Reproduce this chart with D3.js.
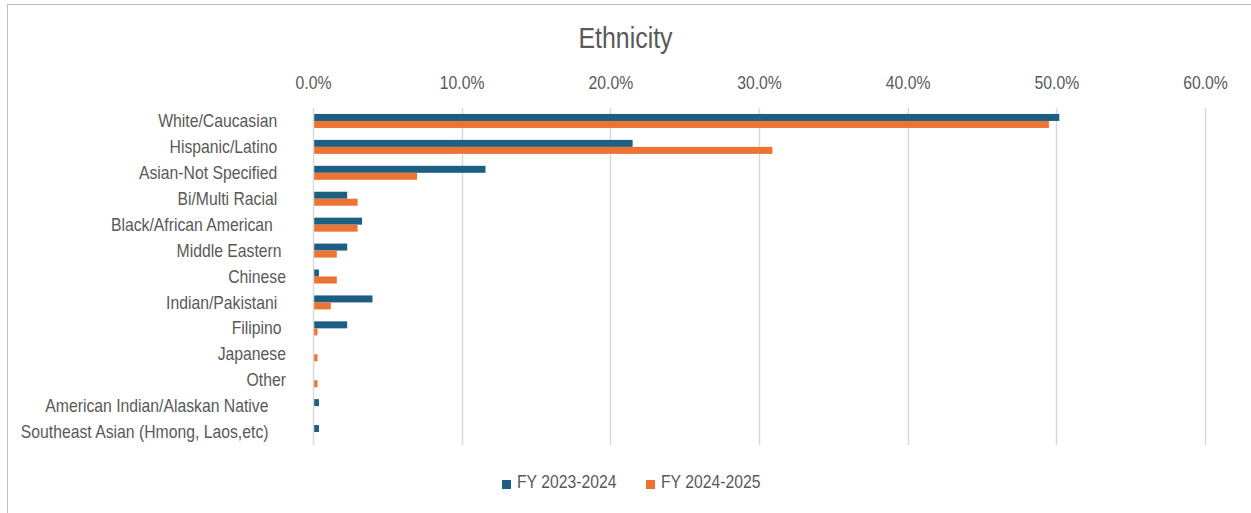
<!DOCTYPE html>
<html>
<head>
<meta charset="utf-8">
<script src="https://cdn.jsdelivr.net/npm/d3@7"></script>
<style>
  html, body { margin: 0; padding: 0; background: #fff; }
  svg text { font-family: "Liberation Sans Narrow", "Arial Narrow", "Liberation Sans", Arial, sans-serif; fill: #595959; }
</style>
</head>
<body>
<svg id="chart" width="1251" height="513"></svg>
<script>
const categories = [
  "White/Caucasian",
  "Hispanic/Latino",
  "Asian-Not Specified",
  "Bi/Multi Racial",
  "Black/African American",
  "Middle Eastern",
  "Chinese",
  "Indian/Pakistani",
  "Filipino",
  "Japanese",
  "Other",
  "American Indian/Alaskan Native",
  "Southeast Asian (Hmong, Laos,etc)"
];
// trailing spaces as in the original labels (affects right alignment)
const labelPad = [2, 2, 2, 2, 3, 1, 0, 2, 1, 0, 0, 4, 4];
const fy2324 = [50.2, 21.5, 11.6, 2.3, 3.3, 2.3, 0.4, 4.0, 2.3, 0, 0, 0.4, 0.4];
const fy2425 = [49.5, 30.9, 7.0, 3.0, 3.0, 1.6, 1.6, 1.2, 0.3, 0.3, 0.3, 0, 0];
const seriesNames = ["FY 2023-2024", "FY 2024-2025"];
const seriesColors = ["#1d5f82", "#ec7432"];
const xTicks = [0, 10, 20, 30, 40, 50, 60];
const title = "Ethnicity";

const svg = d3.select("#chart");
const FONT = '"Liberation Sans Narrow", "Arial Narrow", "Liberation Sans", Arial, sans-serif';
const NARROW = 0.83; // horizontal condensing to imitate a narrow face

// outer chart border
svg.append("rect").attr("x", 7.5).attr("y", 4.5).attr("width", 1250).attr("height", 520)
  .attr("fill", "#fff").attr("stroke", "#bfbfbf").attr("stroke-width", 1);

const plot = { left: 313, right: 1205, top: 108, bottom: 445 };

const x = d3.scaleLinear().domain([0, 60]).range([plot.left, plot.right]);
const y = d3.scaleBand().domain(categories).range([plot.top, plot.bottom]).paddingInner(0.46).paddingOuter(0.23);
const ySub = d3.scaleBand().domain([0, 1]).range([0, y.bandwidth()]);

// gridlines
svg.append("g").selectAll("line").data(xTicks.slice(1)).join("line")
  .attr("x1", d => Math.round(x(d)) + 0.5).attr("x2", d => Math.round(x(d)) + 0.5)
  .attr("y1", plot.top).attr("y2", plot.bottom)
  .attr("stroke", "#d9d9d9").attr("stroke-width", 1.5);

// top axis labels
const xAxis = d3.axisTop(x).tickValues(xTicks).tickFormat(d => d.toFixed(1) + "%").tickSize(0).tickPadding(0);
const gx = svg.append("g").attr("transform", `translate(0, 89)`).call(xAxis);
gx.select(".domain").remove();
gx.selectAll("text").attr("font-size", 19).attr("fill", "#595959")
  .attr("transform", `scale(${NARROW},1)`).style("font-family", FONT);

// bars
const series = [fy2324, fy2425];
series.forEach((vals, si) => {
  svg.append("g").selectAll("rect").data(categories).join("rect")
    .attr("x", x(0))
    .attr("y", (c) => y(c) + ySub(si))
    .attr("width", (c, i) => Math.max(0, x(vals[i]) - x(0)))
    .attr("height", ySub.bandwidth())
    .attr("fill", seriesColors[si]);
});

// vertical axis line at 0
svg.append("line").attr("x1", Math.round(x(0)) + 0.5).attr("x2", Math.round(x(0)) + 0.5)
  .attr("y1", plot.top).attr("y2", plot.bottom)
  .attr("stroke", "#d9d9d9").attr("stroke-width", 1.5);

// category labels
const yAxis = d3.axisLeft(y).tickSize(0).tickPadding(0).tickFormat((d, i) => d + "\u00a0".repeat(labelPad[i]));
const gy = svg.append("g").attr("transform", `translate(286, 0)`).call(yAxis);
gy.select(".domain").remove();
gy.selectAll("text").attr("font-size", 19).attr("fill", "#595959").style("white-space", "pre")
  .attr("transform", `scale(${NARROW},1)`).style("font-family", FONT);

// title
svg.append("g").attr("transform", `translate(625.5, 48) scale(${NARROW},1)`)
  .append("text").attr("text-anchor", "middle").attr("font-size", 30).text(title);

// legend
const legend = svg.append("g").attr("transform", "translate(502, 488)");
const legX = [0, 144];
seriesNames.forEach((n, i) => {
  const g = legend.append("g").attr("transform", `translate(${legX[i]},0)`);
  g.append("rect").attr("x", 0).attr("y", -8).attr("width", 9).attr("height", 9).attr("fill", seriesColors[i]);
  g.append("g").attr("transform", `translate(15,0) scale(${NARROW},1)`)
    .append("text").attr("x", 0).attr("y", 0).attr("font-size", 19).text(n);
});
</script>
</body>
</html>
